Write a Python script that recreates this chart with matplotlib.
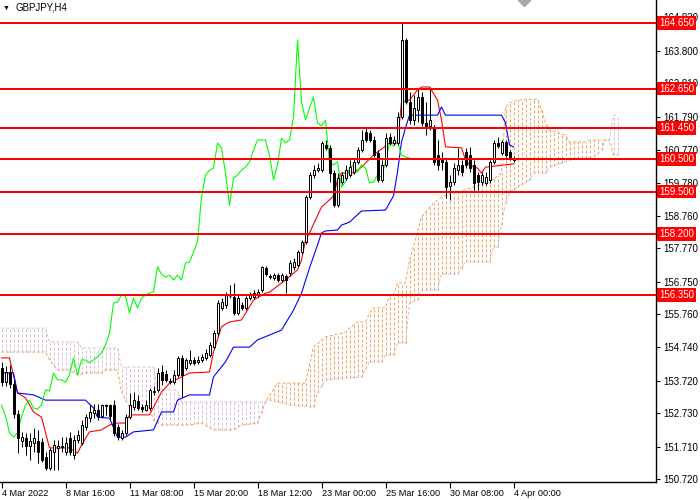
import numpy as np
import matplotlib
matplotlib.use("Agg")
import matplotlib.pyplot as plt
import matplotlib.transforms as mtransforms

plt.rcParams['font.family'] = ['Liberation Sans', 'DejaVu Sans']
plt.rcParams['lines.scale_dashes'] = False

# GBPJPY H4 candles, 4 Mar 2022 00:00 .. 4 Apr 2022 00:00
opens = [154.11, 153.68, 153.99, 153.62, 152.71, 151.88, 151.97, 151.73, 151.82, 151.88,
         151.85, 151.39, 151.06, 151.55, 151.67, 151.70, 151.55, 151.97, 151.45, 151.91,
         151.82, 152.31, 152.58, 152.74, 152.83, 152.65, 152.95, 152.98, 152.98, 152.31,
         151.97, 152.13, 152.61, 152.92, 153.10, 152.92, 152.83, 152.89, 153.38, 153.44,
         153.99, 153.93, 153.72, 153.68, 153.90, 154.42, 154.11, 154.27, 154.36, 154.30,
         154.36, 154.42, 154.51, 154.75, 155.18, 155.95, 156.04, 156.31, 156.28, 155.79,
         156.04, 155.95, 156.25, 156.28, 156.34, 156.50, 157.17, 156.92, 156.86, 156.95,
         156.80, 156.92, 157.01, 157.20, 157.26, 157.66, 157.96, 159.34, 160.01, 160.16,
         160.16, 160.93, 160.84, 160.07, 159.09, 159.80, 159.92, 160.01, 160.10, 160.41,
         160.77, 161.32, 161.29, 161.08, 160.68, 159.86, 160.32, 161.17, 160.99, 160.99,
         161.78, 164.14, 162.24, 161.69, 162.00, 162.39, 161.60, 161.51, 161.45, 160.62,
         160.47, 160.41, 159.67, 159.80, 160.16, 160.32, 160.71, 160.62, 160.32, 160.01,
         159.80, 159.77, 159.86, 160.41, 160.99, 160.68, 161.02, 160.71, 160.47]
highs = [154.30, 154.17, 154.20, 153.75, 152.83, 152.16, 152.13, 152.13, 152.28, 152.22,
         151.97, 151.55, 151.67, 151.91, 151.91, 152.00, 152.00, 152.16, 152.06, 152.22,
         152.52, 152.71, 152.98, 153.01, 153.01, 153.01, 153.01, 153.01, 153.13, 152.40,
         152.22, 152.71, 153.35, 153.38, 153.29, 153.01, 153.13, 153.50, 153.56, 154.11,
         154.20, 154.05, 153.81, 154.05, 154.48, 154.51, 154.42, 154.66, 154.45, 154.48,
         154.54, 154.69, 154.91, 155.27, 156.19, 156.25, 156.44, 156.65, 156.71, 156.34,
         156.13, 156.31, 156.44, 156.50, 156.53, 157.23, 157.23, 156.98, 157.01, 157.01,
         157.01, 156.98, 157.41, 157.47, 157.72, 158.02, 159.40, 160.10, 160.32, 160.38,
         161.05, 161.08, 160.93, 160.16, 160.07, 160.10, 160.32, 160.47, 160.53, 160.87,
         161.39, 161.45, 161.39, 161.20, 160.77, 160.47, 161.29, 161.29, 161.20, 161.94,
         164.69, 164.20, 162.55, 162.46, 162.67, 162.55, 162.24, 162.70, 161.54, 161.08,
         160.71, 160.53, 160.01, 160.38, 160.84, 160.47, 160.84, 160.87, 160.47, 160.10,
         160.10, 160.10, 160.47, 161.08, 161.17, 161.08, 161.08, 160.77, 160.59]
lows = [153.56, 153.56, 153.50, 152.58, 151.51, 151.70, 151.45, 151.30, 151.55, 151.21,
        151.24, 151.00, 151.00, 151.00, 151.00, 151.55, 151.45, 151.45, 151.33, 151.82,
        151.76, 152.22, 152.46, 152.58, 152.52, 152.58, 152.68, 152.52, 152.03, 151.91,
        151.91, 152.06, 152.55, 152.83, 152.83, 152.77, 152.80, 152.83, 153.29, 153.38,
        153.59, 153.68, 153.62, 153.62, 153.84, 153.23, 154.05, 154.20, 154.20, 154.23,
        154.30, 154.36, 154.45, 154.69, 155.09, 155.88, 155.95, 156.25, 155.73, 155.73,
        155.88, 155.88, 156.19, 156.22, 156.28, 156.44, 156.92, 156.83, 156.80, 156.74,
        156.74, 156.40, 156.92, 157.11, 157.20, 157.60, 157.90, 159.28, 159.92, 160.10,
        160.10, 160.77, 159.80, 159.03, 159.03, 159.74, 159.86, 159.95, 160.04, 160.35,
        160.71, 161.02, 161.02, 160.56, 159.80, 159.80, 160.25, 160.93, 160.93, 160.93,
        161.72, 162.18, 161.57, 161.54, 161.63, 161.51, 161.23, 161.39, 160.32, 160.16,
        160.16, 159.31, 159.25, 159.70, 160.01, 159.98, 160.22, 160.10, 159.55, 159.55,
        159.70, 159.70, 159.77, 160.35, 160.84, 160.62, 160.56, 160.47, 160.41]
closes = [153.68, 153.99, 153.62, 152.71, 151.97, 152.00, 151.73, 151.88, 151.97, 151.55,
          151.30, 151.06, 151.61, 151.76, 151.73, 151.73, 151.82, 151.55, 151.91, 152.06,
          152.37, 152.61, 152.77, 152.83, 152.65, 152.98, 152.98, 152.65, 152.13, 152.00,
          152.13, 152.61, 152.98, 153.13, 152.89, 152.86, 152.98, 153.44, 153.41, 153.96,
          153.75, 153.75, 153.68, 153.90, 154.42, 153.90, 154.36, 154.36, 154.27, 154.36,
          154.45, 154.57, 154.82, 155.18, 156.10, 156.13, 156.34, 156.31, 155.79, 156.25,
          155.95, 156.25, 156.34, 156.40, 156.44, 157.20, 156.98, 156.89, 156.95, 156.80,
          156.95, 156.80, 157.32, 157.35, 157.66, 157.96, 159.34, 160.01, 160.16, 160.22,
          160.99, 160.84, 160.07, 159.09, 159.92, 160.01, 160.16, 160.25, 160.41, 160.77,
          161.08, 161.08, 161.08, 160.62, 159.86, 160.32, 161.14, 160.99, 161.08, 161.78,
          164.14, 162.24, 161.69, 162.06, 162.39, 161.60, 161.51, 161.69, 160.41, 160.32,
          160.41, 159.64, 159.80, 160.22, 160.32, 160.10, 160.32, 160.22, 159.77, 159.80,
          160.01, 159.95, 160.41, 160.99, 160.90, 161.02, 160.62, 160.56, 160.53]

# Ichimoku lines, vertices (bar index, price)
tenkan_idx = [0, 2, 4, 6, 8, 10, 12, 17, 19, 20, 22, 25, 27, 29, 31, 32, 37, 40, 42, 45,
              47, 52, 53, 55, 57, 60, 63, 66, 67, 70, 71, 74, 75, 76, 77, 80, 82, 83, 84, 85,
              88, 90, 93, 97, 99, 100, 102, 104, 105, 107, 109, 110, 111, 115, 116, 117, 119,
              120, 121, 128]
tenkan_val = [154.42, 154.42, 153.35, 153.20, 152.77, 152.61, 151.67, 151.67, 151.51, 151.76,
              152.16, 152.22, 152.37, 152.43, 152.43, 152.68, 152.68, 153.38, 153.65, 153.84,
              153.96, 153.99, 154.60, 155.37, 155.52, 155.58, 156.19, 156.40, 156.43, 156.71,
              156.80, 157.11, 157.41, 158.02, 158.24, 159.03, 159.25, 159.37, 159.86, 160.07,
              160.07, 160.25, 160.62, 160.99, 160.99, 162.24, 162.30, 162.61, 162.70, 162.70,
              162.30, 161.69, 160.87, 160.84, 160.47, 160.32, 160.22, 160.07, 160.25, 160.35]

kijun_idx = [0, 3, 4, 8, 11, 21, 23, 24, 27, 29, 31, 33, 38, 40, 43, 44, 47, 52, 53, 56,
             58, 62, 64, 70, 73, 75, 77, 79, 80, 81, 84, 85, 87, 90, 96, 98, 99, 100, 101,
             102, 109, 110, 111, 125, 126, 127, 128]
kijun_val = [153.96, 153.96, 153.35, 153.29, 153.13, 153.13, 152.89, 152.61, 152.58, 152.00,
             152.00, 152.16, 152.22, 152.77, 152.77, 153.13, 153.29, 153.29, 153.84, 154.30,
             154.75, 154.75, 154.97, 155.27, 155.88, 156.40, 157.17, 157.87, 158.24, 158.30,
             158.33, 158.48, 158.57, 158.91, 158.94, 159.37, 160.10, 161.02, 161.45, 161.84,
             161.84, 162.09, 161.84, 161.84, 161.60, 160.93, 160.87]

span_a_idx = [0, 11, 12, 14, 17, 19, 21, 25, 26, 29, 30, 31, 32, 37, 38, 40, 47, 50, 53, 58,
              60, 64, 66, 69, 76, 78, 81, 86, 87, 89, 91, 92, 93, 96, 97, 98, 99, 101, 102,
              103, 105, 108, 110, 114, 118, 122, 125, 126, 127, 129, 134, 135, 136, 137, 141,
              142, 146, 147, 152, 153, 154]
span_a_val = [154.60, 154.60, 154.36, 154.05, 154.05, 153.90, 153.96, 153.96, 154.05, 154.05,
              153.38, 153.13, 152.92, 152.92, 152.52, 152.37, 152.37, 152.43, 152.22, 152.22,
              152.37, 152.43, 153.07, 153.65, 153.65, 154.75, 155.06, 155.21, 155.33, 155.52,
              155.52, 155.79, 155.95, 155.95, 156.34, 156.34, 156.71, 156.71, 157.41, 157.81,
              158.73, 159.15, 159.34, 159.49, 159.64, 159.80, 160.07, 162.09, 162.21, 162.30,
              162.33, 162.00, 161.60, 161.39, 161.23, 161.02, 161.02, 161.08, 161.08, 160.62,
              160.62]

span_b_idx = [0, 11, 12, 19, 20, 29, 30, 38, 39, 44, 45, 65, 67, 72, 78, 79, 81, 90, 92, 95,
              96, 98, 99, 101, 102, 104, 105, 109, 110, 114, 116, 122, 123, 124, 126, 127,
              129, 132, 133, 136, 137, 140, 142, 146, 148, 150, 151, 152, 153, 154]
span_b_val = [155.33, 155.33, 154.91, 154.91, 154.72, 154.72, 154.14, 154.14, 153.44, 153.44,
              153.07, 153.07, 153.13, 152.98, 152.92, 153.35, 153.75, 153.84, 154.30, 154.30,
              154.51, 154.51, 154.88, 154.88, 156.10, 156.19, 156.50, 156.50, 156.98, 156.98,
              157.35, 157.35, 157.81, 157.81, 159.15, 159.49, 159.64, 159.86, 160.07, 160.07,
              160.25, 160.38, 160.47, 160.53, 160.56, 160.77, 161.08, 161.08, 161.84, 161.84]

levels = [164.650, 162.650, 161.450, 160.500, 159.500, 158.200, 156.350]
ytick_vals = [164.830, 163.800, 162.810, 161.790, 160.770, 159.780, 158.760, 157.770,
              156.750, 155.760, 154.740, 153.720, 152.730, 151.710, 150.720]
xtick_labels = ['4 Mar 2022', '8 Mar 16:00', '11 Mar 08:00', '15 Mar 20:00', '18 Mar 12:00',
                '23 Mar 00:00', '25 Mar 16:00', '30 Mar 08:00', '4 Apr 00:00']

SANDY = (0.957, 0.643, 0.376)
THISTLE = (0.847, 0.749, 0.847)
DOTS = (0, (2.2, 1.4))
PX = 0.72  # one pixel in points at 100 dpi

fig = plt.figure(figsize=(7, 5), dpi=100)
ax = fig.add_axes([0, 18 / 500, 656 / 700, 482 / 500])

n = len(closes)
idx = np.arange(n)
o = np.array(opens)
h = np.array(highs)
l = np.array(lows)
c = np.array(closes)

# kumo: one dotted vertical per bar, brown when span A is on top
proj = np.arange(n + 26)
sa = np.interp(proj, span_a_idx, span_a_val)
sb = np.interp(proj, span_b_idx, span_b_val)
cols = [SANDY if a >= b else THISTLE for a, b in zip(sa, sb)]
ax.vlines(proj, np.minimum(sa, sb), np.maximum(sa, sb), colors=cols,
          linewidth=PX, linestyles=[DOTS], zorder=1)
ax.plot(span_a_idx, span_a_val, color=SANDY, lw=PX, ls=DOTS, zorder=1.5)
ax.plot(span_b_idx, span_b_val, color=THISTLE, lw=PX, ls=DOTS, zorder=1.5)

ax.plot(tenkan_idx, tenkan_val, color='#FF0000', lw=0.8, zorder=2)
ax.plot(kijun_idx, kijun_val, color='#0000FF', lw=0.8, zorder=2)
ax.plot(idx[:n - 26], c[26:], color='#00FF00', lw=0.8, zorder=2)

# candles
ax.vlines(idx, l, h, color='black', lw=PX, zorder=3)
up = c >= o
body_lo = np.minimum(o, c)
body_h = np.maximum(np.abs(c - o), 0.015)
ax.bar(idx, body_h, bottom=body_lo, width=0.5,
       color=np.where(up, 'white', 'black'), edgecolor='black', linewidth=PX, zorder=3.5)

# bid line + horizontal levels
ax.axhline(c[-1], color='#C0C0C0', lw=PX, zorder=4)
trans = mtransforms.blended_transform_factory(ax.transAxes, ax.transData)
for lv in levels:
    ax.axhline(lv, color='#FF0000', lw=2 * PX, zorder=5)
    ax.text(1.0 + 3 / 656, lv, f'{lv:.3f}', transform=trans, ha='left', va='center',
            color='white', fontsize=7, clip_on=False, zorder=10,
            bbox=dict(boxstyle='square,pad=0.18', fc='#FF0000', ec='none'))

# bar centres on pixel centres: 4 px per bar
ax.set_xlim(-0.375, 163.625)
ax.set_ylim(150.628, 165.359)

ax.yaxis.tick_right()
ax.set_yticks(ytick_vals)
ax.set_yticklabels([f'{v:.3f}' for v in ytick_vals])
ax.tick_params(axis='y', labelsize=7, length=3, width=0.8, pad=2)

ax.set_xticks(np.arange(0, 129, 16))
ax.set_xticklabels(xtick_labels, ha='left')
ax.tick_params(axis='x', labelsize=6.6, length=4, width=0.8, pad=1)

for side in ['top', 'left']:
    ax.spines[side].set_visible(False)
for side in ['right', 'bottom']:
    ax.spines[side].set_linewidth(1.0)
    ax.spines[side].set_color('black')

# chart shift marker
ax.plot([130.5], [165.359], marker='D', color='#A8A8A8', ms=6, zorder=6, clip_on=True)

fig.text(3 / 700, 1 - 8 / 500, '\u25BC', fontsize=5, va='center', ha='left')
fig.text(15 / 700, 1 - 8 / 500, 'GBPJPY,H4', fontsize=7, va='center', ha='left')

fig.savefig('out.png', dpi=100)
